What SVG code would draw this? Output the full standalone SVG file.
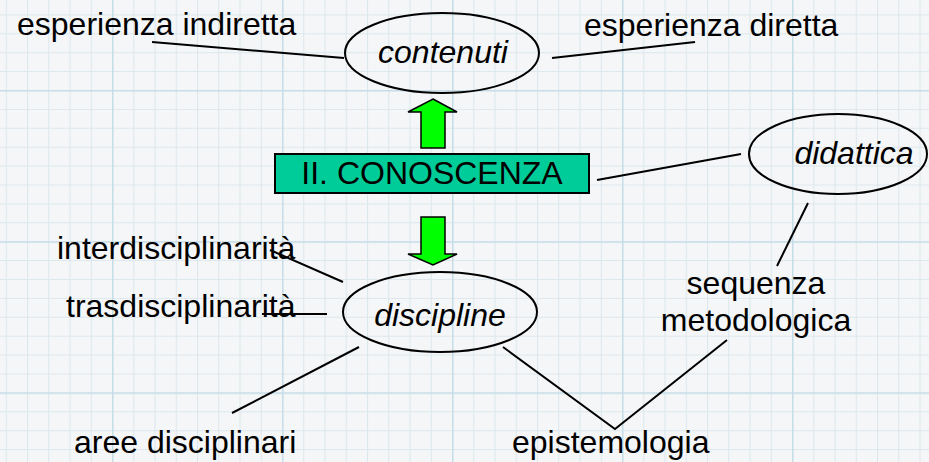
<svg xmlns="http://www.w3.org/2000/svg" width="929" height="462" viewBox="0 0 929 462">
<style>
.t{font-family:"Liberation Sans",Arial,sans-serif;font-size:32px;fill:#000}
.i{font-style:italic}
.c{text-anchor:middle}
.ln{stroke:#000;stroke-width:2;fill:none}
.el{stroke:#000;stroke-width:2;fill:none}
.ar{fill:#00FF00;stroke:#000;stroke-width:1.5;stroke-linejoin:miter}
</style>
<defs>
<pattern id="minor" patternUnits="userSpaceOnUse" x="5.75" y="14.4" width="21.25" height="18.9">
<path d="M0.5 0V18.9M0 0.5H21.25" stroke="#dce8ee" stroke-width="1.2" fill="none"/>
</pattern>
<pattern id="major" patternUnits="userSpaceOnUse" x="112" y="90" width="170" height="151.2">
<path d="M0.5 0V151.2M0 0.5H170" stroke="#c6dde8" stroke-width="2" fill="none"/>
</pattern>
</defs>
<rect width="929" height="462" fill="#f5f6f7"/>
<rect width="929" height="462" fill="url(#minor)"/>
<rect width="929" height="462" fill="url(#major)"/>

<g id="connectors">
<line class="ln" x1="152" y1="42" x2="344" y2="58"/>
<line class="ln" x1="552" y1="58" x2="695" y2="42"/>
<line class="ln" x1="597" y1="180" x2="741" y2="154"/>
<line class="ln" x1="808" y1="203" x2="777" y2="266"/>
<line class="ln" x1="270" y1="250" x2="343" y2="282"/>
<line class="ln" x1="262" y1="314" x2="327" y2="314"/>
<line class="ln" x1="359" y1="347" x2="232" y2="413"/>
<polyline class="ln" points="503,347 615,429 727,340"/>
<polygon id="arrow-up" class="ar" points="433,99 457,112 445,112 445,148 421,148 421,112 408,112"/>
<polygon id="arrow-down" class="ar" points="421,217 445,217 445,254 457,254 433,265 408,254 421,254"/>
</g>

<g id="esperienza-indiretta"><text class="t" x="17" y="35">esperienza indiretta</text></g>
<g id="esperienza-diretta"><text class="t" x="584" y="36">esperienza diretta</text></g>
<g id="contenuti">
<ellipse class="el" cx="442" cy="53" rx="97" ry="40"/>
<text class="t i c" x="443" y="63">contenuti</text>
</g>
<g id="conoscenza">
<rect x="275" y="154" width="314" height="39" fill="#00CC99" stroke="#000" stroke-width="2"/>
<text class="t c" x="432" y="184">II. CONOSCENZA</text>
</g>
<g id="didattica">
<ellipse class="el" cx="838" cy="154" rx="89" ry="40"/>
<text class="t i c" x="854" y="164">didattica</text>
</g>
<g id="interdisciplinarita"><text class="t" x="57" y="259">interdisciplinarità</text></g>
<g id="trasdisciplinarita"><text class="t" x="66" y="317">trasdisciplinarità</text></g>
<g id="discipline">
<ellipse class="el" cx="440" cy="312" rx="97" ry="40"/>
<text class="t i c" x="440" y="326">discipline</text>
</g>
<g id="sequenza-metodologica">
<text class="t c" x="756" y="294">sequenza</text>
<text class="t c" x="756" y="331">metodologica</text>
</g>
<g id="aree-disciplinari"><text class="t" x="74" y="453">aree disciplinari</text></g>
<g id="epistemologia"><text class="t" x="512" y="453">epistemologia</text></g>
</svg>
